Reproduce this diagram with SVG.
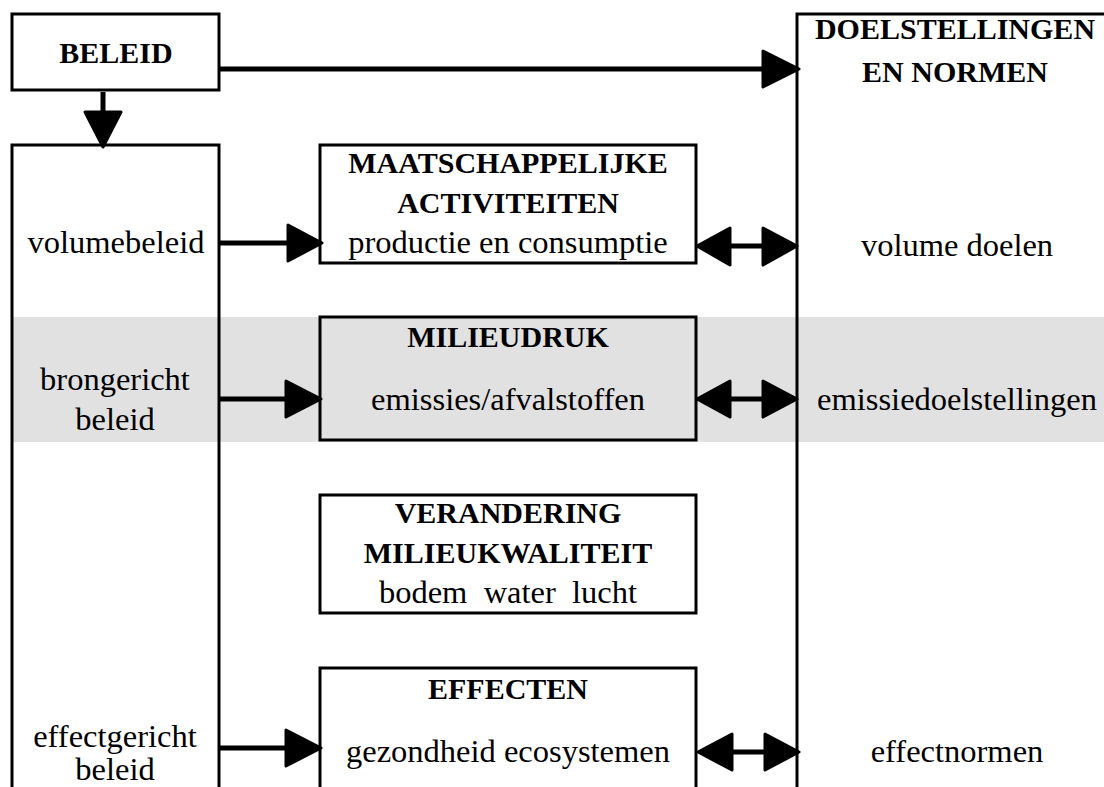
<svg xmlns="http://www.w3.org/2000/svg" width="1104" height="787" viewBox="0 0 1104 787">
<style>
.box{fill:#fff;stroke:#000;stroke-width:3}
.open{fill:none;stroke:#000;stroke-width:3}
.b{font-family:"Liberation Serif","Times New Roman",serif;font-weight:bold;font-size:30px;text-anchor:middle;fill:#000}
.r{font-family:"Liberation Serif","Times New Roman",serif;font-size:32.5px;text-anchor:middle;fill:#000}
.ln{stroke:#000;stroke-width:5;fill:none}
.hd{fill:#000;stroke:#000;stroke-width:3;stroke-linejoin:round}
</style>
<rect x="0" y="0" width="1104" height="787" fill="#fff"/>
<rect id="band" x="12" y="317" width="1092" height="125" fill="#e1e1e1"/>

<g id="beleid">
<rect class="box" x="12" y="14" width="207" height="76"/>
<text class="b" x="116" y="63">BELEID</text>
</g>

<g id="instrumenten">
<rect class="open" x="12" y="145" width="207" height="700"/>
<text class="r" x="116" y="253">volumebeleid</text>
<text class="r" x="115" y="390">brongericht</text>
<text class="r" x="115" y="430">beleid</text>
<text class="r" x="115" y="747">effectgericht</text>
<text class="r" x="115" y="780">beleid</text>
</g>

<g id="doelstellingen">
<rect class="open" x="797" y="14" width="400" height="850"/>
<text class="b" x="955" y="39">DOELSTELLINGEN</text>
<text class="b" x="955" y="82">EN NORMEN</text>
<text class="r" x="957" y="256">volume doelen</text>
<text class="r" x="957" y="410">emissiedoelstellingen</text>
<text class="r" x="957" y="762">effectnormen</text>
</g>

<g id="activiteiten">
<rect class="box" x="320" y="145" width="376" height="118"/>
<text class="b" x="508" y="173">MAATSCHAPPELIJKE</text>
<text class="b" x="508" y="213">ACTIVITEITEN</text>
<text class="r" x="508" y="253">productie en consumptie</text>
</g>

<g id="milieudruk">
<rect class="box" x="320" y="317" width="376" height="123" style="fill:#e1e1e1"/>
<text class="b" x="508" y="347">MILIEUDRUK</text>
<text class="r" x="508" y="410">emissies/afvalstoffen</text>
</g>

<g id="verandering">
<rect class="box" x="320" y="495" width="376" height="118"/>
<text class="b" x="508" y="523">VERANDERING</text>
<text class="b" x="508" y="563">MILIEUKWALITEIT</text>
<text class="r" x="508" y="603" xml:space="preserve" style="white-space:pre">bodem  water  lucht</text>
</g>

<g id="effecten">
<rect class="box" x="320" y="668" width="376" height="200"/>
<text class="b" x="508" y="699">EFFECTEN</text>
<text class="r" x="508" y="762">gezondheid ecosystemen</text>
</g>

<g id="connectors">
<line class="ln" x1="219" y1="69" x2="765" y2="69"/>
<polygon class="hd" points="763,51 799,69 763,87"/>
<line class="ln" x1="103" y1="92" x2="103" y2="114"/>
<polygon class="hd" points="85,112 121,112 103,147"/>

<line class="ln" x1="219" y1="243" x2="290" y2="243"/>
<polygon class="hd" points="288,225 322,243 288,261"/>
<line class="ln" x1="728" y1="246" x2="765" y2="246"/>
<polygon class="hd" points="730,228 697,246 730,265"/>
<polygon class="hd" points="763,228 797,246 763,265"/>

<line class="ln" x1="219" y1="399" x2="288" y2="399"/>
<polygon class="hd" points="286,381 321,399 286,417"/>
<line class="ln" x1="728" y1="399" x2="765" y2="399"/>
<polygon class="hd" points="730,381 697,399 730,417"/>
<polygon class="hd" points="763,381 797,399 763,417"/>

<line class="ln" x1="219" y1="748" x2="288" y2="748"/>
<polygon class="hd" points="286,730 321,748 286,766"/>
<line class="ln" x1="730" y1="752" x2="767" y2="752"/>
<polygon class="hd" points="732,734 698,752 732,770"/>
<polygon class="hd" points="765,734 799,752 765,770"/>
</g>
</svg>
